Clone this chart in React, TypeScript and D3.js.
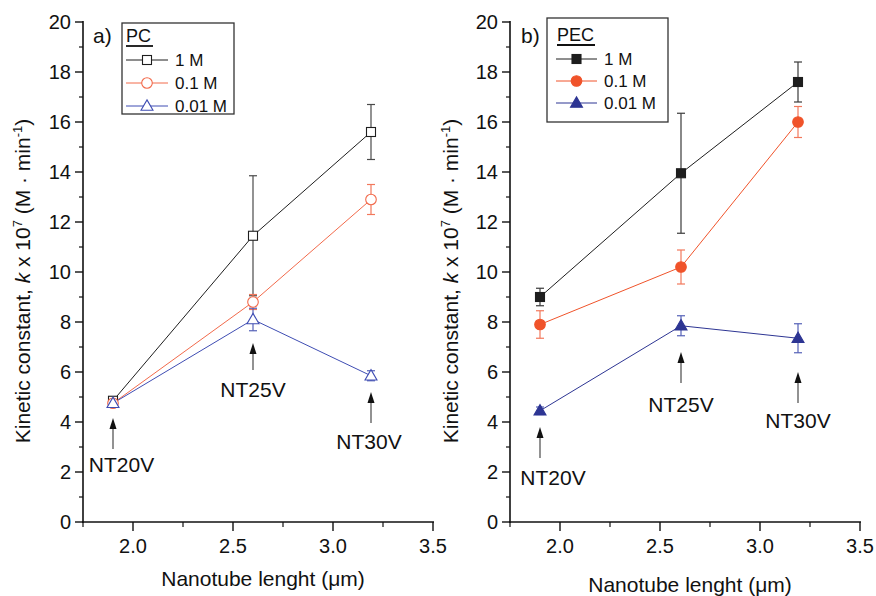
import React from "react";
import * as d3 from "d3";

const W = 876;
const H = 596;
const FONT = "'Liberation Sans', Arial, Helvetica, sans-serif";

// ---------- data ----------
const seriesNames = ["1 M", "0.1 M", "0.01 M"];
const xPC = [1.9, 2.6, 3.19];
const pc1M = [4.85, 11.45, 15.6];
const pc1MErr = [0.15, 2.4, 1.1];
const pc01M = [4.75, 8.8, 12.9];
const pc01MErr = [0.15, 0.3, 0.6];
const pc001M = [4.75, 8.1, 5.85];
const pc001MErr = [0.15, 0.45, 0.2];

const xPEC = [1.9, 2.605, 3.19];
const pec1M = [9.0, 13.95, 17.6];
const pec1MErr = [0.35, 2.4, 0.8];
const pec01M = [7.9, 10.2, 16.0];
const pec01MErr = [0.55, 0.68, 0.62];
const pec001M = [4.45, 7.85, 7.35];
const pec001MErr = [0.15, 0.4, 0.58];

const annLabels = ["NT20V", "NT25V", "NT30V"];
// annotation anchors in data units: [arrowX, headY, tailY, labelX, labelBaselineY]
const annPC = [
  [1.9, 4.16, 2.92, 1.9425, 2.0],
  [2.6, 7.16, 6.08, 2.6, 5.0],
  [3.19, 5.2, 3.96, 3.18, 2.92],
];
const annPEC = [
  [1.9, 3.8, 2.56, 1.965, 1.48],
  [2.605, 6.8, 5.56, 2.605, 4.4],
  [3.19, 6.0, 4.76, 3.19, 3.76],
];

const xTicks = [2.0, 2.5, 3.0, 3.5];
const xMinor = [1.75, 2.25, 2.75, 3.25];
const yTicks = [0, 2, 4, 6, 8, 10, 12, 14, 16, 18, 20];
const yMinor = [1, 3, 5, 7, 9, 11, 13, 15, 17, 19];

type Style = { color: string; err: string; shape: "square" | "circle" | "triangle"; filled: boolean };

const stylesPC: Style[] = [
  { color: "#1e1e1e", err: "#4a4a4a", shape: "square", filled: false },
  { color: "#f26a4b", err: "#f2785c", shape: "circle", filled: false },
  { color: "#3f4db3", err: "#5561b8", shape: "triangle", filled: false },
];
const stylesPEC: Style[] = [
  { color: "#1e1e1e", err: "#3a3a3a", shape: "square", filled: true },
  { color: "#f0532a", err: "#f2785c", shape: "circle", filled: true },
  { color: "#2d3593", err: "#5561b8", shape: "triangle", filled: true },
];

function Marker({ x, y, s }: { x: number; y: number; s: Style }) {
  const fill = s.filled ? s.color : "#fff";
  if (s.shape === "square")
    return <rect x={x - 4.5} y={y - 4.5} width={9} height={9} fill={fill} stroke={s.color} strokeWidth={1.1} />;
  if (s.shape === "circle")
    return <circle cx={x} cy={y} r={5.3} fill={fill} stroke={s.color} strokeWidth={1.1} />;
  const sym = d3.symbol().type(d3.symbolTriangle).size(62)();
  return <path d={sym || ""} transform={`translate(${x},${y + 0.8})`} fill={fill} stroke={s.color} strokeWidth={1.1} />;
}

function Panel({
  x0, x1, xs, series, errs, styles, ann, panelLabel, legendTitle, legend, titleY, ylabelX,
}: {
  x0: number; x1: number; xs: number[]; series: number[][]; errs: number[][]; styles: Style[];
  ann: number[][]; panelLabel: { x: number; y: number; t: string };
  legendTitle: string; legend: { x: number; y: number; w: number; h: number; rows: number[]; lineX0: number; lineX1: number; textX: number; titleX: number; titleY: number };
  titleY: number; ylabelX: number;
}) {
  const x = d3.scaleLinear().domain([1.75, 3.5]).range([x0, x1]);
  const y = d3.scaleLinear().domain([0, 20]).range([522, 22]);
  const line = d3.line<number>().x((_, i) => x(xs[i])).y((v) => y(v));
  const axisColor = "#111";
  return (
    <g fontFamily={FONT}>
      {/* series */}
      {series.map((vals, si) => (
        <g key={si}>
          <path d={line(vals) || ""} fill="none" stroke={styles[si].color} strokeWidth={1} />
          {vals.map((v, i) => {
            const cx = x(xs[i]);
            const top = y(v + errs[si][i]);
            const bot = y(v - errs[si][i]);
            return (
              <g key={i} stroke={styles[si].err} strokeWidth={1.2}>
                <line x1={cx} x2={cx} y1={top} y2={bot} />
                <line x1={cx - 4} x2={cx + 4} y1={top} y2={top} />
                <line x1={cx - 4} x2={cx + 4} y1={bot} y2={bot} />
              </g>
            );
          })}
        </g>
      ))}
      {series.map((vals, si) => (
        <g key={"m" + si}>
          {vals.map((v, i) => (
            <Marker key={i} x={x(xs[i])} y={y(v)} s={styles[si]} />
          ))}
        </g>
      ))}
      {/* axes */}
      <line x1={x0} x2={x0} y1={21} y2={523} stroke={axisColor} strokeWidth={1.6} />
      <line x1={x0 - 1} x2={x1 + 1} y1={522} y2={522} stroke={axisColor} strokeWidth={1.6} />
      {yTicks.map((t) => (
        <g key={"yt" + t}>
          <line x1={x0 - 8} x2={x0} y1={y(t)} y2={y(t)} stroke={axisColor} strokeWidth={1.4} />
          <text x={x0 - 12} y={y(t) + 7} fontSize={20} textAnchor="end" fill="#111">{t}</text>
        </g>
      ))}
      {yMinor.map((t) => (
        <line key={"ym" + t} x1={x0 - 4} x2={x0} y1={y(t)} y2={y(t)} stroke={axisColor} strokeWidth={1.2} />
      ))}
      {xTicks.map((t) => (
        <g key={"xt" + t}>
          <line x1={x(t)} x2={x(t)} y1={522} y2={531} stroke={axisColor} strokeWidth={1.4} />
          <text x={x(t)} y={553} fontSize={20} textAnchor="middle" fill="#111">{t.toFixed(1)}</text>
        </g>
      ))}
      {xMinor.map((t) => (
        <line key={"xm" + t} x1={x(t)} x2={x(t)} y1={522} y2={527} stroke={axisColor} strokeWidth={1.2} />
      ))}
      {/* axis titles */}
      <text x={(x0 + x1) / 2 + 5} y={titleY} fontSize={21} textAnchor="middle" fill="#111">
        Nanotube lenght (μm)
      </text>
      <text transform={`translate(${ylabelX},${281}) rotate(-90)`} fontSize={21} textAnchor="middle" fill="#111">
        Kinetic constant, <tspan fontStyle="italic">k</tspan> x 10<tspan dy={-8} fontSize={13}>7</tspan>
        <tspan dy={8}> (M · min</tspan><tspan dy={-8} fontSize={13}>-1</tspan><tspan dy={8}>)</tspan>
      </text>
      {/* annotations */}
      {ann.map((a, i) => {
        const ax = x(a[0]);
        const hy = y(a[1]);
        const ty = y(a[2]);
        return (
          <g key={"an" + i}>
            <line x1={ax} x2={ax} y1={hy + 8} y2={ty} stroke="#777" strokeWidth={1.6} />
            <path d={`M${ax},${hy} L${ax - 3.5},${hy + 11} L${ax + 3.5},${hy + 11} Z`} fill="#111" />
            <text x={x(a[3])} y={y(a[4])} fontSize={21} textAnchor="middle" fill="#111">{annLabels[i]}</text>
          </g>
        );
      })}
      {/* panel label */}
      <text x={panelLabel.x} y={panelLabel.y} fontSize={21} fill="#111">{panelLabel.t}</text>
      {/* legend */}
      <rect x={legend.x} y={legend.y} width={legend.w} height={legend.h} fill="#fff" stroke="#333" strokeWidth={1.3} />
      <text x={legend.titleX} y={legend.titleY} fontSize={18} fill="#111">{legendTitle}</text>
      <line x1={legend.titleX} x2={legend.titleX + (legendTitle.length === 2 ? 27 : 38)} y1={legend.titleY + 4} y2={legend.titleY + 4} stroke="#111" strokeWidth={1.8} />
      {seriesNames.map((n, i) => {
        const ry = legend.rows[i];
        const mx = (legend.lineX0 + legend.lineX1) / 2;
        return (
          <g key={"lg" + i}>
            <line x1={legend.lineX0} x2={legend.lineX1} y1={ry} y2={ry} stroke={styles[i].color} strokeWidth={1} />
            <Marker x={mx} y={ry} s={styles[i]} />
            <text x={legend.textX} y={ry + 6} fontSize={17} fill="#111">{n}</text>
          </g>
        );
      })}
    </g>
  );
}

export default function App() {
  return (
    <svg width={W} height={H} viewBox={`0 0 ${W} ${H}`} style={{ position: "absolute", left: 0, top: 0, background: "#fff" }}>
      <rect width={W} height={H} fill="#fff" />
      <Panel
        x0={83} x1={433} xs={xPC}
        series={[pc1M, pc01M, pc001M]} errs={[pc1MErr, pc01MErr, pc001MErr]} styles={stylesPC}
        ann={annPC} panelLabel={{ x: 93, y: 43, t: "a)" }} legendTitle="PC"
        legend={{ x: 122, y: 23, w: 112, h: 91, rows: [60, 83, 106], lineX0: 126, lineX1: 168, textX: 175, titleX: 126, titleY: 42 }}
        titleY={586} ylabelX={30}
      />
      <Panel
        x0={510} x1={860} xs={xPEC}
        series={[pec1M, pec01M, pec001M]} errs={[pec1MErr, pec01MErr, pec001MErr]} styles={stylesPEC}
        ann={annPEC} panelLabel={{ x: 521, y: 43, t: "b)" }} legendTitle="PEC"
        legend={{ x: 547, y: 18, w: 121, h: 104, rows: [59, 81, 103], lineX0: 556, lineX1: 597, textX: 604, titleX: 557, titleY: 41 }}
        titleY={592} ylabelX={458}
      />
    </svg>
  );
}
